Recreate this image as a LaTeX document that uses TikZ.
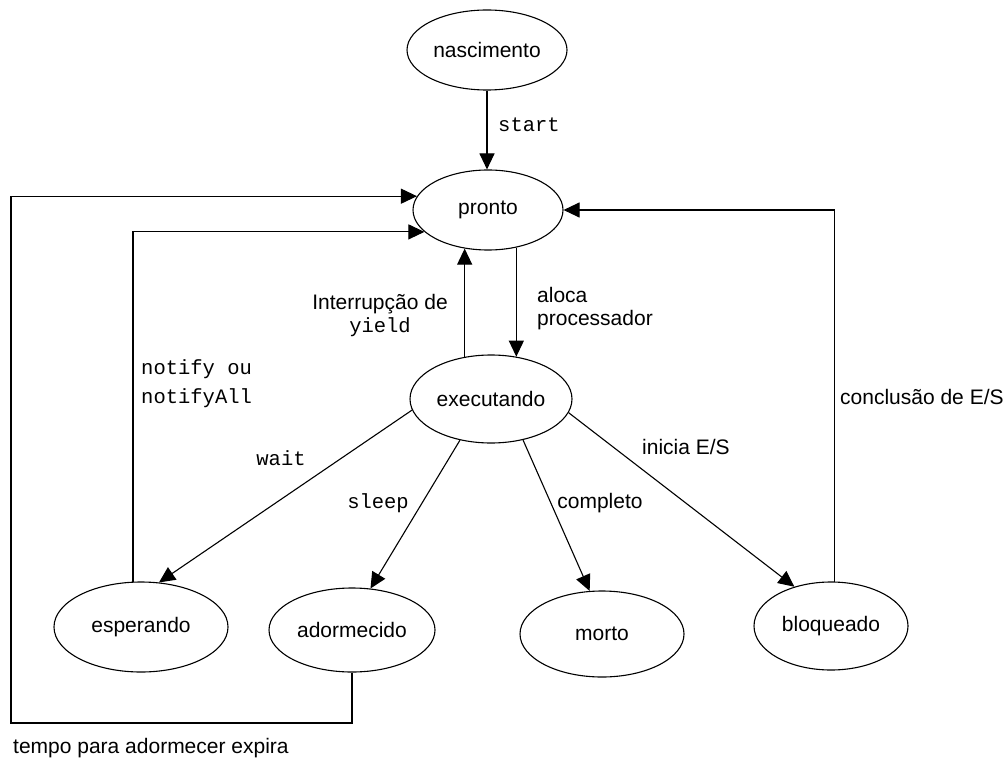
\documentclass[tikz,border=0pt]{standalone}
\usepackage{fontspec}
\setmainfont{Liberation Sans}
\newfontfamily\monofont{Liberation Mono}
\usetikzlibrary{shapes.geometric,arrows.meta}
\begin{document}
\begin{tikzpicture}[x=1pt,y=-1pt,
  state/.style={ellipse,draw,line width=1.1pt,inner sep=0pt,font=\fontsize{21}{24}\selectfont},
  conn/.style={line width=1.1pt,-{Triangle[length=16pt,width=15pt]}},
  lbl/.style={inner sep=0pt,font=\fontsize{21}{23}\selectfont},
  code/.style={inner sep=0pt,font=\monofont\fontsize{20.5}{29}\selectfont}]
\useasboundingbox[fill=white] (0,0) rectangle (1008,767);
% states
\node[state,minimum width=160pt,minimum height=80pt] (nasc) at (487,50) {nascimento};
\node[state,minimum width=150pt,minimum height=80pt] (pronto) at (488,210) {pronto};
\node[state,minimum width=162pt,minimum height=88pt] (exec) at (491,399) {executando};
\node[state,minimum width=174pt,minimum height=90pt] (esper) at (141,627) {esperando};
\node[state,minimum width=166pt,minimum height=84pt] (ador) at (352,630) {adormecido};
\node[state,minimum width=164pt,minimum height=86pt] (morto) at (602,634) {morto};
\node[state,minimum width=154pt,minimum height=88pt] (bloq) at (831,626) {bloqueado};
% connectors
\draw[conn] (nasc.south) -- (nasc.south |- pronto.north);
\draw[conn] (pronto.307) -- (pronto.307 |- exec.59);
\draw[conn] (exec.122) -- (exec.122 |- pronto.239);
\draw[conn] (exec.188) -- (esper.68);
\draw[conn] (exec.233) -- (ador.66);
\draw[conn] (exec.308) -- (morto.106);
\draw[conn] (exec.350) -- (bloq.133);
\draw[conn] (bloq.85) |- (pronto.east);
\draw[conn] (esper.100) |- (pronto.199);
\coordinate (bl) at (11,723);
\draw[conn] (ador.south) |- (bl) |- (pronto.169);
% labels
\node[code,anchor=west] (lstart) at (498,125) {start};
\node[lbl,anchor=west,align=left] (laloca) at (537,308.5) {aloca\\processador};
\node[lbl,anchor=center,align=center] (lyield) at (380,316) {Interrupção de\\{\monofont\fontsize{20.5}{23}\selectfont yield}};
\node[code,anchor=west,align=left] (lnotify) at (141,383.5) {notify ou\\notifyAll};
\node[code] (lwait) at (281,458) {wait};
\node[code] (lsleep) at (378,503) {sleep};
\node[lbl] (lcomp) at (600,503) {completo};
\node[lbl] (linicia) at (686,447) {inicia E/S};
\node[lbl,anchor=west] (lconc) at (840,397) {conclusão de E/S};
\node[lbl,anchor=west] (ltempo) at (13,748) {tempo para adormecer expira};
\end{tikzpicture}
\end{document}
